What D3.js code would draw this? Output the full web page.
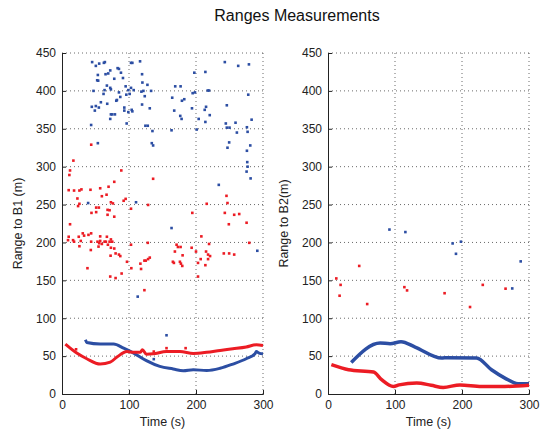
<!DOCTYPE html>
<html>
<head>
<meta charset="utf-8">
<script src="https://cdn.jsdelivr.net/npm/d3@7"></script>
<style>
  body { margin: 0; background: #fff; }
  svg { font-family: "Liberation Sans", Arial, Helvetica, sans-serif; }
</style>
</head>
<body>
<div id="chart"></div>
<script>
// ---- data (time s, range m) ----
const xTicks = [0, 100, 200, 300];
const yTicks = [0, 50, 100, 150, 200, 250, 300, 350, 400, 450];

// B1: blue outliers
const b1Blue = [[45,438],[55.5,436],[50.5,433],[62.5,437],[64,438],[53.5,421],[52.5,414],[54,413.5],[65,422],[69,423],
  [72,427],[83,430],[85,429],[88,424],[78,416],[91,417],[47,400],[63.5,401],[67,407],[72,404],[73,402],[62,396],
  [58,385],[55,378],[50.5,380],[44.5,379],[49,374],[43.5,355],[53.5,331],[67.5,383],[81,387],[82,388],[85,398],
  [87,392],[73,369],[75,369],[72,363],[79,369],[93,374],[93,378],[95,406],[96,395],[99,401],[101,396],[96.5,357],
  [103,437],[105,437],[103,404],[107,401],[104,375],[105,373],[99,372],[116.5,439],[119.5,422],[120,411],[118.5,399],
  [121.5,400],[123.5,393],[127.5,408],[119.5,382],[128,354],[124.5,354],[131,377],[133,400],[135,347],[134,331],
  [136,328],[169,406],[177,406],[164.5,391],[167.5,374],[179,387],[182.5,389],[176.5,367],[178.5,363],[163.5,348],
  [194,377],[195,397],[198.5,398],[197.5,424],[214,425],[201,349],[204,363],[213,375],[215,379],[217.5,400.5],
  [219.5,400.5],[220.5,368],[214,359],[243,438],[263,433],[279,435],[246,381],[278,395],[244.5,357],[246,351.5],
  [250,351.5],[249.5,332],[247,325],[259,358],[261,345],[276,352],[277,346],[283,362],[281,328],[276,321],
  [276.5,306],[277,300],[275.5,293.5],[281.5,284.5],[234,276],
  [39,252],[110.5,253],[113,128.5],[163.5,219],[291.5,189],[156,77.5],[137,46]];

// B1: red outliers
const b1Red = [[43.6,329],[17,308],[12,295],[11,289],[10,269],[18,268.5],[26,268.5],[29,270],[42.5,269.5],[57,271.5],
  [69.5,273.5],[78,280],[88.5,295],[136,284],[59.5,261],[66.5,263],[23,258],[26,251],[24,248],[51,246],[55,246],
  [44,239],[51,240],[68,243],[71,242.5],[76,251.5],[73,253],[92,255],[95,257.5],[68,236.5],[78,234],[103,244.5],
  [128.5,249.5],[12,224],[194.5,239],[216,251],[245.5,261.5],[247,252],[243,239],[257,236.5],[264.5,237.5],
  [249,224],[275.5,226],
  [10,207.5],[9,203],[18,201],[16.5,203],[25,207.5],[26,195],[28,202],[31,212],[33,209],[39.5,210],[43.5,212],
  [43.5,201],[43,190],[53,201],[55.5,199],[54.5,194.5],[57,208],[57,202],[63.5,201],[67,207.5],[59.5,198],
  [65.5,201],[68.5,197],[71,201],[73,193],[75,201],[73,204],[78,192],[80,185.5],[85,184],[87,182],[72.5,182.5],
  [72,155],[80,153],[89,159],[38,166],[97,174.5],[103.5,166],[103,197],[117,172],[118,165],[123,176],[125,176],
  [128.5,178],[131,180],[128,199.5],[123,137],[165.5,174.5],[167,173],[168.5,188],[171,197],[173,194],[176,174.5],
  [177.5,172],[177,194],[180,183],[179.5,169],[193.5,193],[200,188],[203,173],[203,155],[207,178],[214,170],
  [215,188],[218,184],[219.5,198],[218,178],[221,182],[208,208],[241.5,185.5],[249.5,185.5],[257,184],[279.5,199.5],
  [21,59],[137,56],[156,60.5],[184.5,60.5]];

// B1: dense tracks
const b1BlueTrack = [[35,71.5],[37,68],[57,66],[77,66],[92,60.5],[107,54],[126,44],[146,36.4],[166,33],[181,30.7],
  [196,32],[216,31],[236,34],[255,39.5],[275,46.5],[288,53],[290,56],[294,54],[300,53]];
const b1RedTrack = [[5,65.8],[22,54],[37,46.5],[57,39.5],[72,42],[82,48.7],[97,56],[107,55],[117,55],[120,58.5],
  [126,52.6],[136,53],[156,56],[176,56],[196,53.5],[216,55],[236,57.5],[255,59.6],[275,62],[290,65],[300,64]];

// B2: outliers
const b2Blue = [[91.7,217],[115.5,213.7],[186,198.7],[198.4,201],[191,185],[287.6,175],[275,139.3]];
const b2Red = [[12.4,152.5],[18.8,144],[17.3,129.7],[46.6,169],[58.5,118.7],[114,141],[118,136.7],[174,133],
  [212,114.8],[231,144],[265,139]];

// B2: dense tracks
const b2BlueTrack = [[34.7,41.7],[77.8,67.3],[92.7,66.4],[109,69],[130,62],[169.6,47.5],[178,48],[221.7,47.5],
  [244,32],[264,21],[283.7,13.6],[300,13.6]];
const b2RedTrack = [[5,38.7],[30.7,32],[68,29],[80,19],[97.7,10],[106,12],[132.4,14.5],[154,11.5],[172,8.7],
  [197,12],[229,10],[264,10],[300,11.5]];

// ---- layout ----
const W = 552, H = 433;
const blue = "#2c4ea3", red = "#ec1c24";
const yTop = 53, yBottom = 394;

const svg = d3.select("#chart").append("svg")
  .attr("width", W).attr("height", H);

svg.append("text")
  .attr("x", 297).attr("y", 21)
  .attr("text-anchor", "middle")
  .attr("font-size", 16)
  .attr("fill", "#111")
  .text("Ranges Measurements");

function panel(left, right, ylabel, labelX, scBlue, scRed, trBlue, trRed, lw) {
  const x = d3.scaleLinear().domain([0, 300]).range([left, right]);
  const y = d3.scaleLinear().domain([0, 450]).range([yBottom, yTop]);
  const g = svg.append("g");

  // dotted grid
  g.selectAll(".vg").data(xTicks.slice(1)).enter().append("line")
    .attr("x1", (d) => x(d)).attr("x2", (d) => x(d))
    .attr("y1", yTop).attr("y2", yBottom)
    .attr("stroke", "#444").attr("stroke-width", 0.8)
    .attr("stroke-dasharray", "1,3");
  g.selectAll(".hg").data(yTicks.slice(1)).enter().append("line")
    .attr("x1", left).attr("x2", right)
    .attr("y1", (d) => y(d)).attr("y2", (d) => y(d))
    .attr("stroke", "#444").attr("stroke-width", 0.8)
    .attr("stroke-dasharray", "1,3");

  // axes
  const ax = g.append("g").attr("transform", `translate(0,${yBottom})`)
    .call(d3.axisBottom(x).tickValues(xTicks).tickSize(-4).tickPadding(6));
  const ay = g.append("g").attr("transform", `translate(${left},0)`)
    .call(d3.axisLeft(y).tickValues(yTicks).tickSize(-4).tickPadding(6));
  [ax, ay].forEach((a) => {
    a.select(".domain").attr("stroke", "#222");
    a.selectAll(".tick line").attr("stroke", "#222");
    a.selectAll("text").attr("font-size", 12).attr("fill", "#222")
      .attr("font-family", "'Liberation Sans', Arial, sans-serif");
  });

  g.append("text")
    .attr("x", (left + right) / 2).attr("y", 426)
    .attr("text-anchor", "middle").attr("font-size", 12.5).attr("fill", "#222")
    .text("Time (s)");
  g.append("text")
    .attr("transform", `translate(${labelX},${(yTop + yBottom) / 2}) rotate(-90)`)
    .attr("text-anchor", "middle").attr("font-size", 12.5).attr("fill", "#222")
    .text(ylabel);

  // tracks
  const line = d3.line().x((d) => x(d[0])).y((d) => y(d[1])).curve(d3.curveMonotoneX);
  g.append("path").datum(trBlue)
    .attr("d", line)
    .attr("fill", "none").attr("stroke", blue).attr("stroke-width", lw);
  g.append("path").datum(trRed)
    .attr("d", line)
    .attr("fill", "none").attr("stroke", red).attr("stroke-width", lw);

  // outlier points
  g.selectAll(".pb").data(scBlue).enter().append("rect")
    .attr("x", (d) => x(d[0]) - 1.3).attr("y", (d) => y(d[1]) - 1.3)
    .attr("width", 2.6).attr("height", 2.6)
    .attr("fill", blue);
  g.selectAll(".pr").data(scRed).enter().append("rect")
    .attr("x", (d) => x(d[0]) - 1.3).attr("y", (d) => y(d[1]) - 1.3)
    .attr("width", 2.6).attr("height", 2.6)
    .attr("fill", red);
}

panel(62, 263, "Range to B1 (m)", 22, b1Blue, b1Red, b1BlueTrack, b1RedTrack, 3);
panel(328, 529, "Range to B2(m)", 288, b2Blue, b2Red, b2BlueTrack, b2RedTrack, 3.5);
</script>
</body>
</html>
